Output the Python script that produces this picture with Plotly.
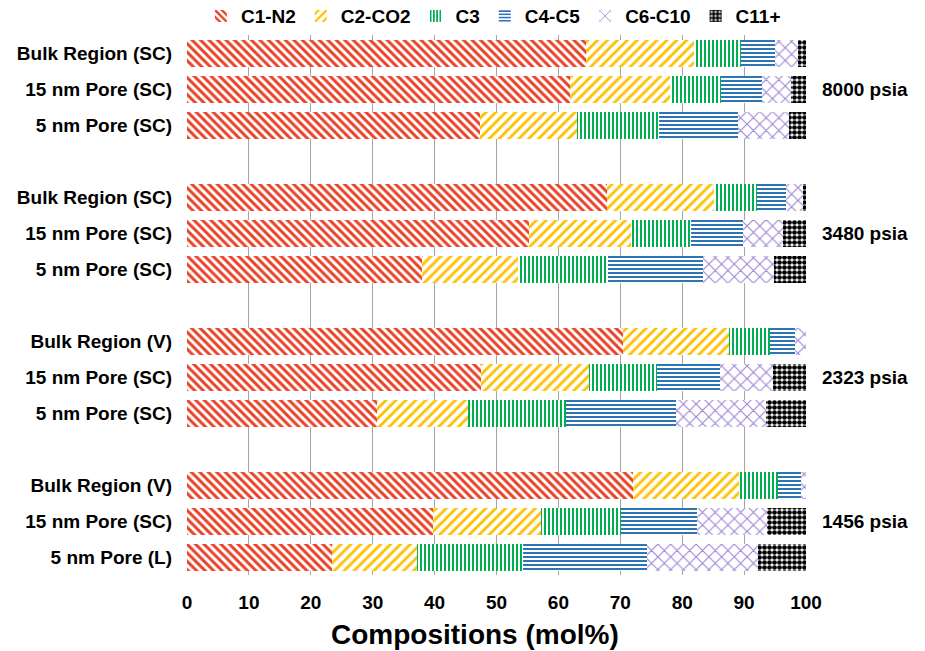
import plotly.graph_objects as go

components = ["C1-N2", "C2-CO2", "C3", "C4-C5", "C6-C10", "C11+"]
pressures = ["8000 psia", "3480 psia", "2323 psia", "1456 psia"]
bar_labels = [
    ["Bulk Region (SC)", "15 nm Pore (SC)", "5 nm Pore (SC)"],
    ["Bulk Region (SC)", "15 nm Pore (SC)", "5 nm Pore (SC)"],
    ["Bulk Region (V)", "15 nm Pore (SC)", "5 nm Pore (SC)"],
    ["Bulk Region (V)", "15 nm Pore (SC)", "5 nm Pore (L)"],
]
# values per group, per bar: [C1-N2, C2-CO2, C3, C4-C5, C6-C10, C11+]
values = [
    [[64.4, 17.5, 7.6, 5.5, 3.7, 1.3],
     [61.9, 16.2, 8.2, 6.6, 4.6, 2.5],
     [47.4, 15.6, 13.2, 12.8, 8.2, 2.8]],
    [[67.9, 17.2, 7.0, 4.7, 2.7, 0.5],
     [55.2, 16.6, 9.7, 8.4, 6.4, 3.7],
     [38.0, 15.4, 14.6, 15.4, 11.5, 5.1]],
    [[70.5, 17.0, 6.7, 4.0, 1.8, 0.0],
     [47.5, 17.4, 11.0, 10.2, 8.6, 5.3],
     [30.7, 14.7, 15.9, 17.7, 14.6, 6.4]],
    [[72.1, 17.0, 6.3, 3.8, 0.8, 0.0],
     [39.7, 17.5, 12.9, 12.3, 11.3, 6.3],
     [23.5, 13.7, 17.1, 20.0, 17.9, 7.8]],
]
x_ticks = [0, 10, 20, 30, 40, 50, 60, 70, 80, 90, 100]
x_title = "Compositions (mol%)"

colors = ["#E8432A", "#FFC000", "#00B050", "#2E75B6", "#9C84D6", "#000000"]
shapes = ["\\", "/", "|", "-", "x", "."]
solid = [0.5, 0.4, 0.5, 0.5, 0.22, 0.7]
psize = [6, 7, 4, 4, 9, 5]

FONT = "Arial, Liberation Sans, sans-serif"

slots, labels = [], []
for g, grp in enumerate(bar_labels):
    for i, lab in enumerate(grp):
        slots.append(g * 4 + i)
        labels.append(lab)

fig = go.Figure()
for c, comp in enumerate(components):
    xs = [values[g][i][c] for g in range(4) for i in range(3)]
    fig.add_trace(go.Bar(
        y=slots, x=xs, orientation="h", name=f"<b>{comp}</b>", width=0.75,
        marker=dict(color=colors[c], line=dict(width=0),
                    pattern=dict(shape=shapes[c], fgcolor=colors[c], bgcolor="white",
                                 solidity=solid[c], size=psize[c], fillmode="replace")),
    ))

for g, p in enumerate(pressures):
    fig.add_annotation(x=1.0226, xref="paper", y=g * 4 + 1, yref="y", text=f"<b>{p}</b>",
                       showarrow=False, xanchor="left", font=dict(family=FONT, size=19, color="black"))

fig.add_annotation(x=0.465, xref="paper", y=-0.111, yref="paper", text=f"<b>{x_title}</b>",
                   showarrow=False, xanchor="center", yanchor="middle",
                   font=dict(family=FONT, size=28, color="black"))

fig.update_layout(
    barmode="stack", bargap=0,
    width=925, height=651,
    margin=dict(l=187, r=119, t=35, b=76, autoexpand=False),
    plot_bgcolor="white", paper_bgcolor="white",
    font=dict(family=FONT, color="black"),
    legend=dict(orientation="h", x=0.495, xanchor="center", y=1.035, yanchor="middle",
                font=dict(family=FONT, size=19, color="black"), itemwidth=30,
                traceorder="normal"),
    xaxis=dict(range=[0, 100], tickvals=x_ticks, ticktext=[f"<b>{v}</b>" for v in x_ticks],
               showgrid=True, gridcolor="#A6A6A6", gridwidth=1, zeroline=False,
               showline=False, ticks="", ticklabelstandoff=14, automargin=False,
               tickfont=dict(family=FONT, size=19, color="black")),
    yaxis=dict(range=[14.5, -0.5], tickvals=slots, ticktext=[f"<b>{l}</b>" for l in labels],
               showgrid=False, zeroline=False, showline=False, ticks="", automargin=False,
               ticklabelstandoff=14,
               tickfont=dict(family=FONT, size=19, color="black")),
)
fig.write_html("out.html", config={"displayModeBar": False},
               post_script="document.body.style.margin='0px';document.body.style.overflow='hidden';")
